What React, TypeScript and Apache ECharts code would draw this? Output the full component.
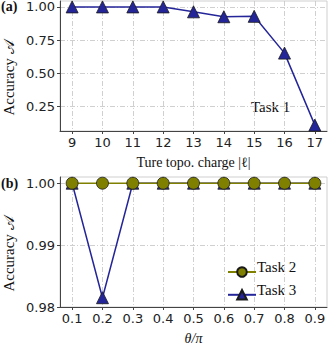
import React, { useEffect, useRef } from "react";
import * as echarts from "echarts";

const charges = [9, 10, 11, 12, 13, 14, 15, 16, 17];
const task1 = [1.0, 1.0, 1.0, 1.0, 0.963, 0.926, 0.929, 0.652, 0.11];
const thetas = [0.1, 0.2, 0.3, 0.4, 0.5, 0.6, 0.7, 0.8, 0.9];
const task2 = [1, 1, 1, 1, 1, 1, 1, 1, 1];
const task3 = [1, 0.9815, 1, 1, 1, 1, 1, 1, 1];
const topYTicks = [0.25, 0.5, 0.75, 1.0];
const botYTicks = [0.98, 0.99, 1.0];
const legendNames = ["Task 2", "Task 3"];

const NAVY = "#25259a";
const OLIVE = "#808000";
const EDGE = "#1a1a1a";
const GRID_LINE = { color: "#c4c4c4", width: 0.8, type: [5, 2, 1, 2] as any };
const AXIS_LINE = { color: "#444", width: 1 };
const TICK_FONT = { fontFamily: "DejaVu Sans", fontSize: 13, color: "#222" };
const SERIF = "Liberation Serif";

export default function App() {
  const ref = useRef<HTMLDivElement>(null);
  useEffect(() => {
    const chart = echarts.init(ref.current!, undefined, { renderer: "svg" });
    const xCommon = (min: number, max: number, vals: number[], dec: number) => ({
      type: "value",
      min,
      max,
      axisLine: { show: true, lineStyle: AXIS_LINE },
      axisTick: { show: true, length: 3, inside: false, customValues: vals, lineStyle: AXIS_LINE },
      axisLabel: {
        ...TICK_FONT,
        margin: 5,
        customValues: vals,
        formatter: (v: number) => v.toFixed(dec),
      },
      splitLine: { show: true, lineStyle: GRID_LINE },
      nameLocation: "middle",
      nameGap: 24,
      nameTextStyle: { fontFamily: SERIF, fontSize: 14, color: "#111" },
    });
    const yCommon = (min: number, max: number, vals: number[], dec: number) => ({
      type: "value",
      min,
      max,
      axisLine: { show: true, lineStyle: AXIS_LINE },
      axisTick: { show: true, length: 3, customValues: vals, lineStyle: AXIS_LINE },
      axisLabel: {
        ...TICK_FONT,
        margin: 5,
        customValues: vals,
        formatter: (v: number) => v.toFixed(dec),
      },
      splitLine: { show: true, lineStyle: GRID_LINE },
    });
    const legendTop = 261;
    const legendItemH = 12;
    const legendGap = 11;
    chart.setOption({
      animation: false,
      grid: [
        { left: 60, right: 5, top: 1, height: 130, show: true, borderColor: "#cfcfcf", borderWidth: 1 },
        { left: 60, right: 5, top: 177, height: 132, show: true, borderColor: "#cfcfcf", borderWidth: 1 },
      ],
      xAxis: [
        { ...xCommon(8.6, 17.4, charges, 0), gridIndex: 0, name: "Ture topo. charge |ℓ|" },
        {
          ...xCommon(0.06, 0.94, thetas, 1),
          gridIndex: 1,
          name: "θ/π",
          nameTextStyle: { fontFamily: SERIF, fontSize: 14, fontStyle: "italic", color: "#111" },
        },
      ],
      yAxis: [
        { ...yCommon(0.0655, 1.0445, topYTicks, 2), gridIndex: 0 },
        { ...yCommon(0.98, 1.001, botYTicks, 2), gridIndex: 1 },
      ],
      legend: {
        left: 222,
        top: legendTop,
        orient: "vertical",
        itemWidth: 28,
        itemHeight: legendItemH,
        itemGap: legendGap,
        data: legendNames,
        formatter: () => "",
      },
      graphic: [
        { type: "text", left: 1, top: -1, style: { text: "(a)", fontFamily: SERIF, fontWeight: "bold", fontSize: 14, fill: "#111" } },
        { type: "text", left: 1, top: 176, style: { text: "(b)", fontFamily: SERIF, fontWeight: "bold", fontSize: 14, fill: "#111" } },
        {
          type: "text",
          x: 9,
          y: 78,
          rotation: Math.PI / 2,
          style: { text: "Accuracy 𝒜", fontFamily: SERIF, fontSize: 15, fill: "#111", align: "center", verticalAlign: "middle" },
        },
        {
          type: "text",
          x: 9,
          y: 254,
          rotation: Math.PI / 2,
          style: { text: "Accuracy 𝒜", fontFamily: SERIF, fontSize: 15, fill: "#111", align: "center", verticalAlign: "middle" },
        },
        {
          type: "text",
          x: 251,
          y: 107,
          style: { text: "Task 1", fontFamily: SERIF, fontSize: 15, fill: "#111", verticalAlign: "middle" },
        },
        ...legendNames.map((n, i) => ({
          type: "text",
          x: 257,
          y: legendTop + legendItemH / 2 + i * (legendItemH + legendGap),
          style: { text: n, fontFamily: SERIF, fontSize: 15, fill: "#111", verticalAlign: "middle" },
        })),
      ],
      series: [
        {
          name: "Task 1",
          type: "line",
          xAxisIndex: 0,
          yAxisIndex: 0,
          data: charges.map((c, i) => [c, task1[i]]),
          symbol: "triangle",
          symbolSize: 12,
          lineStyle: { color: NAVY, width: 1.5 },
          itemStyle: { color: NAVY, borderColor: EDGE, borderWidth: 0.8 },
        },
        {
          name: "Task 3",
          type: "line",
          xAxisIndex: 1,
          yAxisIndex: 1,
          z: 2,
          data: thetas.map((t, i) => [t, task3[i]]),
          symbol: "triangle",
          symbolSize: 12,
          lineStyle: { color: NAVY, width: 1.5 },
          itemStyle: { color: NAVY, borderColor: EDGE, borderWidth: 0.8 },
        },
        {
          name: "Task 2",
          type: "line",
          xAxisIndex: 1,
          yAxisIndex: 1,
          z: 3,
          data: thetas.map((t, i) => [t, task2[i]]),
          symbol: "circle",
          symbolSize: 12,
          lineStyle: { color: OLIVE, width: 1.5 },
          itemStyle: { color: OLIVE, borderColor: EDGE, borderWidth: 0.8 },
        },
      ],
    });
    return () => chart.dispose();
  }, []);
  return <div ref={ref} style={{ width: 332, height: 346, position: "absolute", left: 0, top: 0 }} />;
}
